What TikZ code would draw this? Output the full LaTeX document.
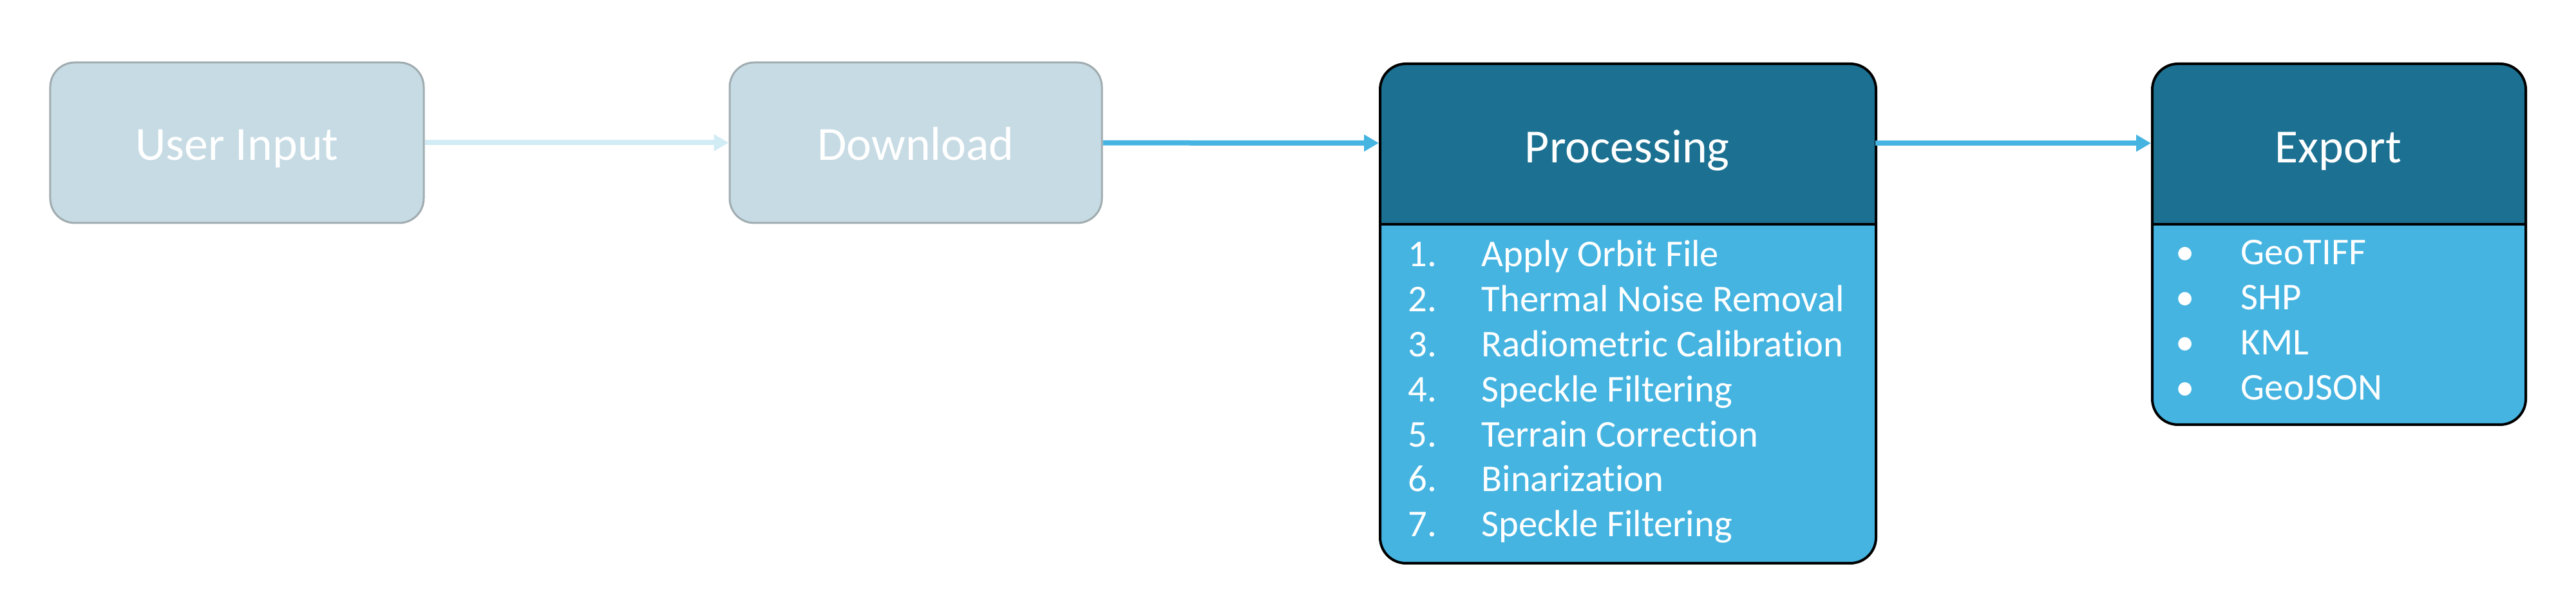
\documentclass[tikz,border=0pt]{standalone}
\usepackage{fontspec}
\setmainfont{Carlito}[Ligatures=NoCommon]
\usetikzlibrary{positioning,arrows.meta}
\definecolor{paleFill}{RGB}{199,219,228}
\definecolor{paleLine}{RGB}{160,172,176}
\definecolor{paleArrow}{RGB}{210,236,246}
\definecolor{headBlue}{RGB}{28,113,146}
\definecolor{bodyBlue}{RGB}{69,180,225}
\tikzset{P node/.style={rectangle,rounded corners=0.38cm,fill=paleFill,draw=paleLine,line width=0.03cm,minimum height=2.49cm,inner sep=0pt},
	B node/.style={rectangle,rounded corners=0.4cm,fill=bodyBlue,draw=black,line width=0.04cm,inner sep=0pt,anchor=north west,
		path picture={\fill[headBlue,sharp corners] (path picture bounding box.north west) rectangle ([yshift=-2.49cm]path picture bounding box.north east);
			\draw[black,sharp corners,line width=0.04cm] ([yshift=-2.49cm]path picture bounding box.north west) -- ([yshift=-2.49cm]path picture bounding box.north east);}},
	H node/.style={rectangle,minimum height=2.49cm,inner sep=0pt,anchor=north west},
	T label/.style={text=white,font=\fontsize{21}{25}\selectfont,anchor=base,inner sep=0pt},
	L label/.style={text=white,font=\fontsize{16.7}{20}\selectfont,anchor=base west,inner sep=0pt},
	F arrow/.style={-{Triangle[length=0.23cm,width=0.25cm]},line width=0.08cm},}

\begin{document}
\begin{tikzpicture}
			\useasboundingbox (0,0) rectangle (40,9.45);

			\node[P node, minimum width=5.80cm] (user) at (3.68, 7.235) {};
			\node[P node, minimum width=5.78cm] (down) at (14.22, 7.235) {};
			\node[T label] (utitle) at ([yshift=-0.27cm]user.center) {User Input};
			\node[T label] (dtitle) at ([yshift=-0.27cm]down.center) {Download};

			\node[B node, minimum width=7.70cm, minimum height=7.75cm] (proc) at (21.41, 8.48) {};
			\node[B node, minimum width=5.80cm, minimum height=5.60cm] (exp) at (33.40, 8.48) {};
			\node[H node, minimum width=7.70cm] (phead) at (proc.north west) {};
			\node[H node, minimum width=5.80cm] (ehead) at (exp.north west) {};
			\node[T label] (ptitle) at ([yshift=-0.30cm]phead.center) {Processing};
			\node[T label] (etitle) at ([yshift=-0.30cm]ehead.center) {Export};

			\foreach \txt [count=\i] in {Apply Orbit File, Thermal Noise Removal, Radiometric Calibration, Speckle Filtering, Terrain Correction, Binarization, Speckle Filtering}
			{
				\node[L label] (pn\i) at (21.86, {5.31-0.698*(\i-1)}) {\i.};
				\node[L label] (pt\i) at (23.00, {5.31-0.698*(\i-1)}) {\txt};
			}
			\foreach \txt [count=\i] in {GeoTIFF, SHP, KML, GeoJSON}
			{
				\node[L label, anchor=base] (eb\i) at (33.93, {5.34-0.697*(\i-1)}) {\textbullet};
				\node[L label] (et\i) at (34.79, {5.34-0.697*(\i-1)}) {\txt};
			}

			\path[draw, F arrow, paleArrow] (user) edge (down);
			\path[draw, F arrow, bodyBlue]
				(down) edge (phead)
				(phead) edge (ehead);
		\end{tikzpicture}
\end{document}
